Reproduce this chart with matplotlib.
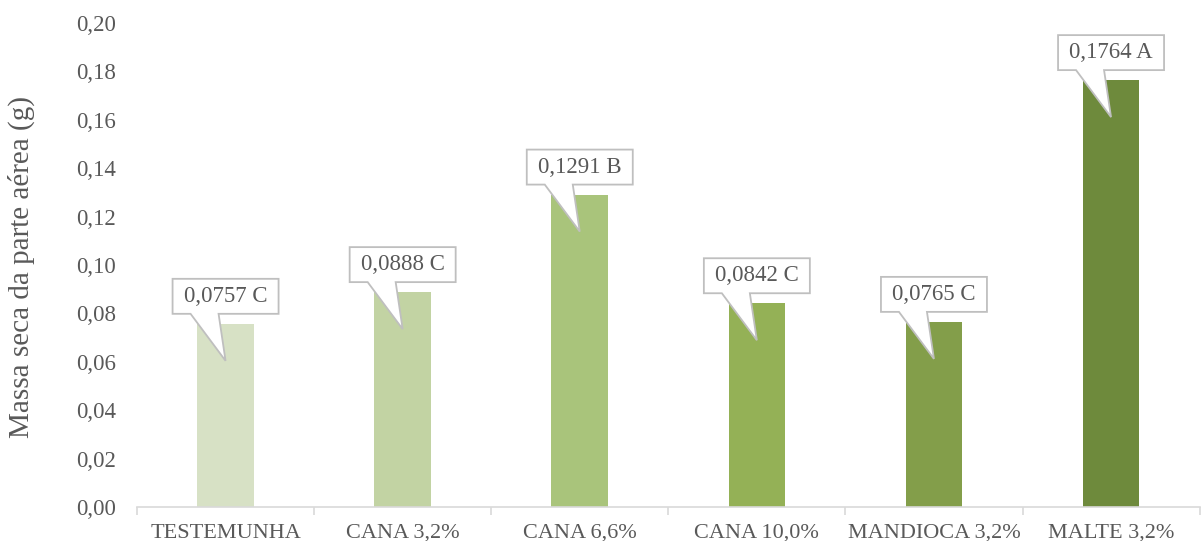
import numpy as np
import matplotlib
matplotlib.use("Agg")
from matplotlib import pyplot as plt
from matplotlib.path import Path
from matplotlib.patches import PathPatch
from matplotlib.transforms import Affine2D, ScaledTranslation

# dry mass per treatment, with the Scott-Knott letters
tratamentos = ["TESTEMUNHA", "CANA 3,2%", "CANA 6,6%", "CANA 10,0%", "MANDIOCA 3,2%", "MALTE 3,2%"]
massa = [0.0757, 0.0888, 0.1291, 0.0842, 0.0765, 0.1764]
letras = ["C", "C", "B", "C", "C", "A"]
cores = ["#D7E1C5", "#C2D3A3", "#A9C47B", "#94B156", "#839E4A", "#6E8A3C"]
yticks = [0.00, 0.02, 0.04, 0.06, 0.08, 0.10, 0.12, 0.14, 0.16, 0.18, 0.20]

plt.rcParams['font.family'] = ['Liberation Serif', 'DejaVu Serif']
cinza = "#595959"

fig = plt.figure(figsize=(12.02, 5.41), dpi=100)
ax = fig.add_axes([0.114, 0.0628, 0.884, 0.8947])

x = np.arange(len(tratamentos))
ax.bar(x, massa, width=0.32, color=cores, zorder=2)

ax.set_xlim(-0.5, len(tratamentos) - 0.5)
ax.set_ylim(0, 0.20)
ax.set_yticks(yticks)
ax.set_yticklabels([("%.2f" % v).replace(".", ",") for v in yticks], fontsize=16.5, color=cinza)
ax.set_xticks(x)
ax.set_xticklabels(tratamentos, fontsize=16, color=cinza)
ax.set_xticks(np.arange(-0.5, len(tratamentos)), minor=True)
ax.tick_params(axis="x", which="major", length=0, pad=12)
ax.tick_params(axis="x", which="minor", length=6, color="#D9D9D9", width=1.2)
ax.tick_params(axis="y", length=0, pad=15)
for s in ["top", "right", "left"]:
    ax.spines[s].set_visible(False)
ax.spines["bottom"].set_color("#D9D9D9")
ax.spines["bottom"].set_linewidth(1.2)
ax.set_ylabel("Massa seca da parte aérea (g)", fontsize=21, color=cinza)
ax.yaxis.set_label_coords(-0.096, 0.495)

# callout boxes, drawn in pixels around the top of each bar
pts = [(-53, 10), (-35, 10), (0, -37), (-7, 10), (53, 10), (53, 45), (-53, 45), (-53, 10)]
codes = [Path.MOVETO] + [Path.LINETO] * 6 + [Path.CLOSEPOLY]
balao = Path(pts, codes)
for xi, v, l in zip(x, massa, letras):
    tr = Affine2D() + ScaledTranslation(xi, v, ax.transData)
    ax.add_patch(PathPatch(balao, transform=tr, facecolor="white",
                           edgecolor="#BFBFBF", lw=1.3, zorder=3, clip_on=False))
    txt_tr = Affine2D().translate(0, 27.5) + ScaledTranslation(xi, v, ax.transData)
    ax.text(0, 0, ("%.4f" % v).replace(".", ",") + " " + l, transform=txt_tr,
            ha="center", va="center", fontsize=16.5, color=cinza, zorder=4)

fig.savefig("out.png", dpi=100)
